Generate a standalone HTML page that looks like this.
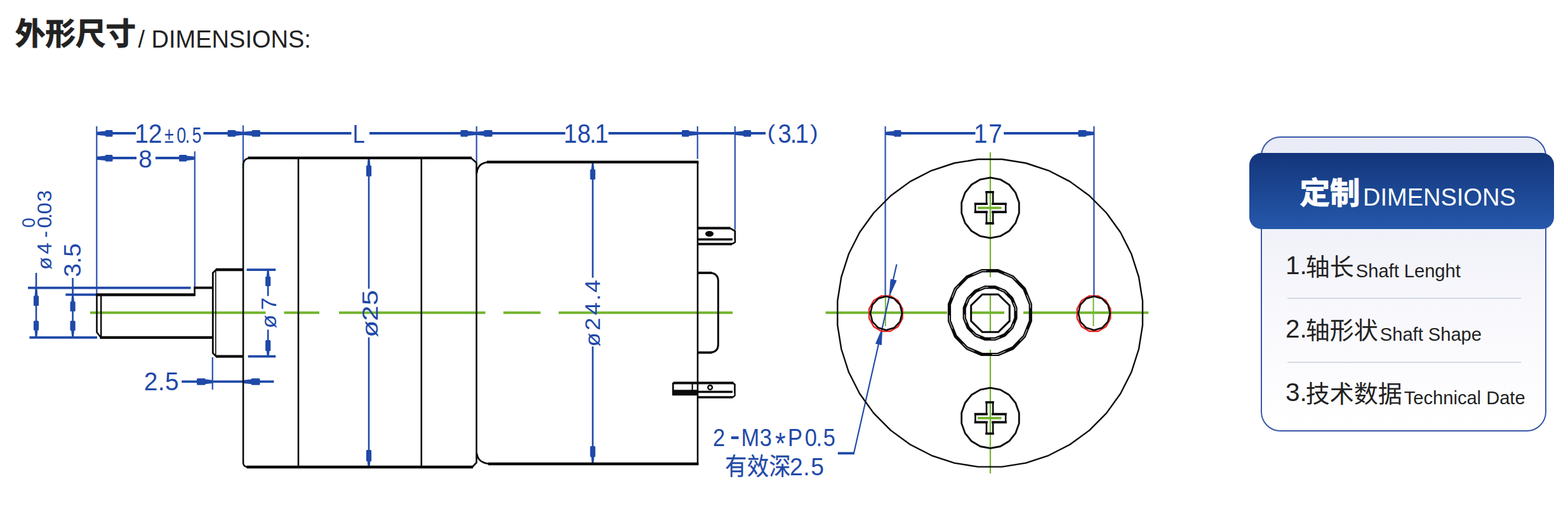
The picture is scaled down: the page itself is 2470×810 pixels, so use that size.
<!DOCTYPE html>
<html lang="zh-CN">
<head>
<meta charset="utf-8">
<title>外形尺寸 / DIMENSIONS</title>
<style>
html,body{margin:0;padding:0;background:#fff;}
body{width:2470px;height:810px;position:relative;overflow:hidden;font-family:"Liberation Sans","Noto Sans CJK SC",sans-serif;color:#222;}
#drawing{position:absolute;left:0;top:0;}
.title{position:absolute;left:24px;top:0;height:100px;white-space:nowrap;}
.title .cn{position:absolute;left:0;top:19px;font-size:47.5px;line-height:70px;font-weight:bold;font-family:"Liberation Sans","Noto Sans CJK SC",sans-serif;color:#222;letter-spacing:0;-webkit-text-stroke:1px #222;}
.title .en{position:absolute;left:193.5px;top:40px;font-size:38px;line-height:44px;color:#222;}
.card{position:absolute;left:1986.4px;top:214.9px;width:445.6px;height:460.8px;border:2px solid #3a58a8;border-radius:31px;background:linear-gradient(#e9ebf6 0%,#f1f2f9 32%,#f9f9fd 62%,#ffffff 100%);}
.head{position:absolute;left:1968px;top:241px;width:480px;height:120px;border-radius:19px;background:linear-gradient(#14357a 0%,#1b4590 45%,#2558ab 100%);}
.head .cn{position:absolute;left:79.5px;top:29px;font-size:47.5px;line-height:70px;font-weight:bold;color:#fff;-webkit-text-stroke:1px #fff;}
.head .en{position:absolute;left:179px;top:48px;font-size:38px;line-height:44px;color:#fff;}
.item{position:absolute;left:2025px;white-space:nowrap;color:#222;height:60px;}
.item .num{font-size:40.5px;line-height:60px;display:inline-block;position:relative;top:-2.5px;margin-right:-2px;}
.item .cn{font-size:38px;line-height:60px;display:inline-block;position:relative;top:0px;}
.item .en{font-size:29.1px;line-height:60px;margin-left:3px;display:inline-block;position:relative;top:2.5px;}
.sep{position:absolute;left:2028px;width:368px;height:2px;background:#d5d9e4;}
</style>
</head>
<body>
<svg id="drawing" width="2470" height="810" viewBox="0 0 2470 810">
<line x1="142" y1="492.8" x2="418.5" y2="492.8" stroke="#74b430" stroke-width="4"/>
<line x1="447.5" y1="492.8" x2="503" y2="492.8" stroke="#74b430" stroke-width="4"/>
<line x1="534" y1="492.8" x2="764.5" y2="492.8" stroke="#74b430" stroke-width="4"/>
<line x1="793" y1="492.8" x2="851.5" y2="492.8" stroke="#74b430" stroke-width="4"/>
<line x1="880" y1="492.8" x2="1154" y2="492.8" stroke="#74b430" stroke-width="4"/>
<line x1="1300.5" y1="492.8" x2="1492" y2="492.8" stroke="#74b430" stroke-width="4"/>
<line x1="1528" y1="492.8" x2="1582" y2="492.8" stroke="#74b430" stroke-width="4"/>
<line x1="1612" y1="492.8" x2="1809" y2="492.8" stroke="#74b430" stroke-width="4"/>
<line x1="1560" y1="240" x2="1560" y2="437" stroke="#74b430" stroke-width="2.2"/>
<line x1="1560" y1="464" x2="1560" y2="522" stroke="#74b430" stroke-width="2.2"/>
<line x1="1560" y1="551" x2="1560" y2="746" stroke="#74b430" stroke-width="2.2"/>
<line x1="1540" y1="327.6" x2="1577.5" y2="327.6" stroke="#74b430" stroke-width="3.6"/>
<line x1="1560" y1="305.5" x2="1560" y2="349.5" stroke="#74b430" stroke-width="2.2"/>
<line x1="1540" y1="658.9" x2="1577.5" y2="658.9" stroke="#74b430" stroke-width="3.6"/>
<line x1="1560" y1="636.8" x2="1560" y2="680.8" stroke="#74b430" stroke-width="2.2"/>
<line x1="1394.8" y1="468" x2="1394.8" y2="514" stroke="#74b430" stroke-width="2.0"/>
<line x1="1722.4" y1="468" x2="1722.4" y2="514" stroke="#74b430" stroke-width="2.0"/>
<line x1="152" y1="210.0" x2="214" y2="210.0" stroke="#1f49a8" stroke-width="3.8"/>
<line x1="320.5" y1="210.0" x2="553.5" y2="210.0" stroke="#1f49a8" stroke-width="3.8"/>
<line x1="582" y1="210.0" x2="890.5" y2="210.0" stroke="#1f49a8" stroke-width="3.8"/>
<line x1="958.5" y1="210.0" x2="1206" y2="210.0" stroke="#1f49a8" stroke-width="3.8"/>
<line x1="152.3" y1="199" x2="152.3" y2="464" stroke="#3356b0" stroke-width="2.3"/>
<line x1="383" y1="197.5" x2="383" y2="266" stroke="#3356b0" stroke-width="2.3"/>
<line x1="750.7" y1="199" x2="750.7" y2="276" stroke="#3356b0" stroke-width="2.3"/>
<line x1="1098.8" y1="199" x2="1098.8" y2="250.5" stroke="#3356b0" stroke-width="2.3"/>
<line x1="1157.8" y1="199" x2="1157.8" y2="362" stroke="#3356b0" stroke-width="2.3"/>
<path d="M152.3 207.8 L166.2 206.5 V206.05 Q166.2 205.05 167.2 205.05 H176.0 Q177.5 205.05 177.5 206.55 V214.05 Q177.5 215.55 176.0 215.55 H167.2 Q166.2 215.55 166.2 214.55 V214.1 L152.3 212.8 Z" fill="#1f49a8"/>
<path d="M383 207.8 L371 206.5 V206.05 Q371 205.05 370 205.05 H360.0 Q358.5 205.05 358.5 206.55 V214.05 Q358.5 215.55 360.0 215.55 H370 Q371 215.55 371 214.55 V214.1 L383 212.8 Z" fill="#1f49a8"/>
<path d="M383 207.8 L397 206.5 V206.05 Q397 205.05 398 205.05 H408.5 Q410 205.05 410 206.55 V214.05 Q410 215.55 408.5 215.55 H398 Q397 215.55 397 214.55 V214.1 L383 212.8 Z" fill="#1f49a8"/>
<path d="M750.7 207.8 L736.8 206.5 V206.05 Q736.8 205.05 735.8 205.05 H726.9 Q725.4 205.05 725.4 206.55 V214.05 Q725.4 215.55 726.9 215.55 H735.8 Q736.8 215.55 736.8 214.55 V214.1 L750.7 212.8 Z" fill="#1f49a8"/>
<path d="M750.7 207.8 L762.6 206.5 V206.05 Q762.6 205.05 763.6 205.05 H774.1 Q775.6 205.05 775.6 206.55 V214.05 Q775.6 215.55 774.1 215.55 H763.6 Q762.6 215.55 762.6 214.55 V214.1 L750.7 212.8 Z" fill="#1f49a8"/>
<path d="M1098.8 207.8 L1085.4 206.5 V206.05 Q1085.4 205.05 1084.4 205.05 H1075.5 Q1074 205.05 1074 206.55 V214.05 Q1074 215.55 1075.5 215.55 H1084.4 Q1085.4 215.55 1085.4 214.55 V214.1 L1098.8 212.8 Z" fill="#1f49a8"/>
<path d="M1157.8 207.8 L1171.2 206.5 V206.05 Q1171.2 205.05 1172.2 205.05 H1181.7 Q1183.2 205.05 1183.2 206.55 V214.05 Q1183.2 215.55 1181.7 215.55 H1172.2 Q1171.2 215.55 1171.2 214.55 V214.1 L1157.8 212.8 Z" fill="#1f49a8"/>
<line x1="152" y1="249" x2="215" y2="249" stroke="#1f49a8" stroke-width="3.8"/>
<line x1="245" y1="249" x2="307" y2="249" stroke="#1f49a8" stroke-width="3.8"/>
<path d="M152.3 246.8 L166 245.5 V245.05 Q166 244.05 167 244.05 H176.0 Q177.5 244.05 177.5 245.55 V253.05 Q177.5 254.55 176.0 254.55 H167 Q166 254.55 166 253.55 V253.1 L152.3 251.8 Z" fill="#1f49a8"/>
<path d="M306.8 246.8 L294 245.5 V245.05 Q294 244.05 293 244.05 H283.5 Q282 244.05 282 245.55 V253.05 Q282 254.55 283.5 254.55 H293 Q294 254.55 294 253.55 V253.1 L306.8 251.8 Z" fill="#1f49a8"/>
<line x1="306.8" y1="238.5" x2="306.8" y2="452" stroke="#3356b0" stroke-width="2.3"/>
<line x1="44" y1="453.6" x2="300.5" y2="453.6" stroke="#1f49a8" stroke-width="3.8"/>
<line x1="46.5" y1="531.8" x2="153" y2="531.8" stroke="#1f49a8" stroke-width="3.8"/>
<line x1="103.3" y1="464.4" x2="152" y2="464.4" stroke="#1f49a8" stroke-width="3.8"/>
<line x1="57" y1="430" x2="57" y2="532" stroke="#1f49a8" stroke-width="2.6"/>
<line x1="114.6" y1="438" x2="114.6" y2="532" stroke="#1f49a8" stroke-width="2.6"/>
<path d="M55.7 453.6 L54.6 466.3 H53.9 Q52.9 466.3 52.9 467.3 V480.4 Q52.9 481.9 54.4 481.9 H59.6 Q61.1 481.9 61.1 480.4 V467.3 Q61.1 466.3 60.1 466.3 H59.4 L58.3 453.6 Z" fill="#1f49a8"/>
<path d="M55.7 531.8 L54.6 520.4 H53.9 Q52.9 520.4 52.9 519.4 V507.1 Q52.9 505.6 54.4 505.6 H59.6 Q61.1 505.6 61.1 507.1 V519.4 Q61.1 520.4 60.1 520.4 H59.4 L58.3 531.8 Z" fill="#1f49a8"/>
<path d="M113.3 464.4 L112.2 475.2 H111.5 Q110.5 475.2 110.5 476.2 V489.2 Q110.5 490.7 112.0 490.7 H117.2 Q118.7 490.7 118.7 489.2 V476.2 Q118.7 475.2 117.7 475.2 H117.0 L115.9 464.4 Z" fill="#1f49a8"/>
<path d="M113.3 531.8 L112.2 521 H111.5 Q110.5 521 110.5 520 V507.1 Q110.5 505.6 112.0 505.6 H117.2 Q118.7 505.6 118.7 507.1 V520 Q118.7 521 117.7 521 H117.0 L115.9 531.8 Z" fill="#1f49a8"/>
<line x1="388.6" y1="425.1" x2="434.3" y2="425.1" stroke="#1f49a8" stroke-width="3.8"/>
<line x1="390.7" y1="561.7" x2="434.3" y2="561.7" stroke="#1f49a8" stroke-width="3.8"/>
<line x1="422.2" y1="425" x2="422.2" y2="466.5" stroke="#1f49a8" stroke-width="2.6"/>
<line x1="422.2" y1="519.5" x2="422.2" y2="562" stroke="#1f49a8" stroke-width="2.6"/>
<path d="M420.9 425.1 L419.8 436 H419.1 Q418.1 436 418.1 437 V449.5 Q418.1 451 419.6 451 H424.8 Q426.3 451 426.3 449.5 V437 Q426.3 436 425.3 436 H424.6 L423.5 425.1 Z" fill="#1f49a8"/>
<path d="M420.9 561.7 L419.8 553 H419.1 Q418.1 553 418.1 552 V537.5 Q418.1 536 419.6 536 H424.8 Q426.3 536 426.3 537.5 V552 Q426.3 553 425.3 553 H424.6 L423.5 561.7 Z" fill="#1f49a8"/>
<line x1="286.2" y1="601.3" x2="431.4" y2="601.3" stroke="#1f49a8" stroke-width="3.8"/>
<line x1="334.8" y1="563" x2="334.8" y2="614" stroke="#3356b0" stroke-width="2.3"/>
<path d="M334.8 599.0 L323.5 597.7 V597.25 Q323.5 596.25 322.5 596.25 H311.5 Q310 596.25 310 597.75 V605.25 Q310 606.75 311.5 606.75 H322.5 Q323.5 606.75 323.5 605.75 V605.3 L334.8 604.0 Z" fill="#1f49a8"/>
<path d="M383.4 599.0 L396 597.7 V597.25 Q396 596.25 397 596.25 H408.0 Q409.5 596.25 409.5 597.75 V605.25 Q409.5 606.75 408.0 606.75 H397 Q396 606.75 396 605.75 V605.3 L383.4 604.0 Z" fill="#1f49a8"/>
<line x1="581" y1="250" x2="581" y2="455" stroke="#1f49a8" stroke-width="2.6"/>
<line x1="581" y1="531.7" x2="581" y2="734" stroke="#1f49a8" stroke-width="2.6"/>
<path d="M579.7 249 L578.6 261 H577.9 Q576.9 261 576.9 262 V276.5 Q576.9 278 578.4 278 H583.6 Q585.1 278 585.1 276.5 V262 Q585.1 261 584.1 261 H583.4 L582.3 249 Z" fill="#1f49a8"/>
<path d="M579.7 736 L578.6 727 H577.9 Q576.9 727 576.9 726 V710.5 Q576.9 709 578.4 709 H583.6 Q585.1 709 585.1 710.5 V726 Q585.1 727 584.1 727 H583.4 L582.3 736 Z" fill="#1f49a8"/>
<line x1="933.7" y1="257" x2="933.7" y2="437.6" stroke="#1f49a8" stroke-width="2.6"/>
<line x1="933.7" y1="546" x2="933.7" y2="729" stroke="#1f49a8" stroke-width="2.6"/>
<path d="M932.4 256 L931.3 267 H930.6 Q929.6 267 929.6 268 V281.5 Q929.6 283 931.1 283 H936.3 Q937.8 283 937.8 281.5 V268 Q937.8 267 936.8 267 H936.1 L935.0 256 Z" fill="#1f49a8"/>
<path d="M932.4 731 L931.3 720 H930.6 Q929.6 720 929.6 719 V704.5 Q929.6 703 931.1 703 H936.3 Q937.8 703 937.8 704.5 V719 Q937.8 720 936.8 720 H936.1 L935.0 731 Z" fill="#1f49a8"/>
<line x1="1394.5" y1="210.0" x2="1536.5" y2="210.0" stroke="#1f49a8" stroke-width="3.8"/>
<line x1="1581.2" y1="210.0" x2="1723.4" y2="210.0" stroke="#1f49a8" stroke-width="3.8"/>
<line x1="1394.6" y1="199" x2="1394.6" y2="467" stroke="#3356b0" stroke-width="2.3"/>
<line x1="1723.3" y1="199" x2="1723.3" y2="467" stroke="#3356b0" stroke-width="2.3"/>
<path d="M1394.6 207.8 L1408.4 206.5 V206.05 Q1408.4 205.05 1409.4 205.05 H1418.1 Q1419.6 205.05 1419.6 206.55 V214.05 Q1419.6 215.55 1418.1 215.55 H1409.4 Q1408.4 215.55 1408.4 214.55 V214.1 L1394.6 212.8 Z" fill="#1f49a8"/>
<path d="M1723.3 207.8 L1711 206.5 V206.05 Q1711 205.05 1710 205.05 H1700.0 Q1698.5 205.05 1698.5 206.55 V214.05 Q1698.5 215.55 1700.0 215.55 H1710 Q1711 215.55 1711 214.55 V214.1 L1723.3 212.8 Z" fill="#1f49a8"/>
<path d="M1412.5 416.5 L1345 714.3" fill="none" stroke="#1f49a8" stroke-width="2.1"/>
<line x1="1319.8" y1="714.3" x2="1346" y2="714.3" stroke="#1f49a8" stroke-width="3.8"/>
<path d="M1401.2 466 L1403.2 440.2 L1412.0 442.2 Z" fill="#1f49a8" stroke="#1f49a8" stroke-width="1" stroke-linejoin="round"/>
<path d="M1389.6 518 L1388.4 543.4 L1379.6 541.4 Z" fill="#1f49a8" stroke="#1f49a8" stroke-width="1" stroke-linejoin="round"/>
<text transform="scale(0.926,1)" x="229.33 252.45" y="225.20" font-size="42.10" font-family="'Liberation Sans',sans-serif" fill="#1f49a8">12</text>
<text transform="scale(0.763,1)" x="339.36 364.80 382.48 396.56" y="225.20" font-size="35.20" font-family="'Liberation Sans',sans-serif" fill="#1f49a8">±0.5</text>
<text transform="scale(0.970,1)" x="224.88" y="264.10" font-size="39.70" font-family="'Liberation Sans',sans-serif" fill="#1f49a8">8</text>
<text transform="scale(0.856,1)" x="648.86" y="224.80" font-size="40.30" font-family="'Liberation Sans',sans-serif" fill="#1f49a8">L</text>
<text transform="scale(0.900,1)" x="986.72 1010.67 1032.00 1041.28" y="225.20" font-size="42.10" font-family="'Liberation Sans',sans-serif" fill="#1f49a8">18.1</text>
<text transform="scale(1.100,1)" x="1098.95" y="220.50" font-size="33.70" font-family="'Liberation Sans',sans-serif" fill="#1f49a8">(</text>
<text transform="scale(0.900,1)" x="1361.78 1383.06 1391.83" y="225.20" font-size="42.10" font-family="'Liberation Sans',sans-serif" fill="#1f49a8">3.1</text>
<text transform="scale(1.100,1)" x="1160.14" y="220.50" font-size="33.70" font-family="'Liberation Sans',sans-serif" fill="#1f49a8">)</text>
<text transform="scale(0.921,1)" x="1665.48 1690.95" y="225.00" font-size="41.80" font-family="'Liberation Sans',sans-serif" fill="#1f49a8">17</text>
<text transform="scale(0.945,1)" x="240.05 263.23 275.14" y="614.70" font-size="41.20" font-family="'Liberation Sans',sans-serif" fill="#1f49a8">2.5</text>
<text transform="scale(0.867,1)" x="1295.25 1326.24 1346.52 1380.21 1408.34 1431.32 1462.26 1482.72 1495.67" y="703.50" font-size="39.70" font-family="'Liberation Sans',sans-serif" fill="#1f49a8">2<tspan font-size="55.0" dy="1.10">-</tspan><tspan dy="-1.10">M</tspan>3<tspan font-size="49.0" dy="11.90">*</tspan><tspan dy="-11.90">P</tspan>0.5</text>
<text transform="scale(0.896,1)" x="1274.75 1313.65 1352.05" y="747.70" font-size="38.00" font-family="'Liberation Sans','Noto Sans CJK SC',sans-serif" fill="#1f49a8" stroke="#1f49a8" stroke-width="0.3" stroke-linejoin="round">有效深</text>
<text transform="scale(0.942,1)" x="1320.63 1343.07 1355.94" y="749.00" font-size="39.50" font-family="'Liberation Sans',sans-serif" fill="#1f49a8">2.5</text>
<text transform="rotate(-90) scale(1.047,1)" x="-416.88 -396.81 -386.51" y="127.40" font-size="36.80" font-family="'Liberation Sans',sans-serif" fill="#1f49a8">3.5</text>
<text transform="rotate(-90) scale(1.044,1)" x="-407.17 -383.56" y="81.50" font-size="31.40" font-family="'Liberation Sans',sans-serif" fill="#1f49a8">ø4</text>
<text transform="rotate(-90) scale(1.049,1)" x="-357.28 -342.81 -328.89 -321.64 -303.10" y="81.50" font-size="31.40" font-family="'Liberation Sans',sans-serif" fill="#1f49a8">-0.03</text>
<text transform="rotate(-90) scale(0.927,1)" x="-386.90" y="55.20" font-size="30.00" font-family="'Liberation Sans',sans-serif" fill="#1f49a8">0</text>
<text transform="rotate(-90) scale(1.053,1)" x="-491.35 -463.96" y="435.00" font-size="33.60" font-family="'Liberation Sans',sans-serif" fill="#1f49a8">ø7</text>
<text transform="rotate(-90) scale(1.250,1)" x="-425.44 -404.72 -384.96" y="595.00" font-size="35.20" font-family="'Liberation Sans',sans-serif" fill="#1f49a8">ø25</text>
<text transform="rotate(-90) scale(1.076,1)" x="-507.73 -483.95 -461.50 -440.23 -428.40" y="945.50" font-size="33.60" font-family="'Liberation Sans',sans-serif" fill="#1f49a8">ø24.4</text>
<polygon points="1421.7,501.7 1414.6,514.6 1402.4,522.0 1388.4,522.0 1376.2,514.6 1369.1,501.7 1369.1,486.7 1376.2,473.8 1388.4,466.4 1402.4,466.4 1414.6,473.8 1421.7,486.7" fill="none" stroke="#e8231e" stroke-width="2.4" stroke-linejoin="round"/>
<polygon points="1749.3,501.7 1742.2,514.6 1730.0,522.0 1716.0,522.0 1703.8,514.6 1696.7,501.7 1696.7,486.7 1703.8,473.8 1716.0,466.4 1730.0,466.4 1742.2,473.8 1749.3,486.7" fill="none" stroke="#e8231e" stroke-width="2.4" stroke-linejoin="round"/>
<path d="M151.5 464.5 H307.5" fill="none" stroke="#0a0a0a" stroke-width="4.3"/>
<path d="M305.5 453.5 H335" fill="none" stroke="#0a0a0a" stroke-width="3.8"/>
<path d="M157.5 531.8 H335" fill="none" stroke="#0a0a0a" stroke-width="4.3"/>
<path d="M152.5 463 V523.5 L159 532" fill="none" stroke="#0a0a0a" stroke-width="2.6"/>
<path d="M159.2 464 V531" fill="none" stroke="#0a0a0a" stroke-width="2.4"/>
<path d="M306.6 452 V466" fill="none" stroke="#0a0a0a" stroke-width="2.6"/>
<path d="M384 425 H340 M384 561.6 H340" fill="none" stroke="#0a0a0a" stroke-width="4.3"/>
<path d="M341 424.5 L335.3 430 V556.5 L341 562" fill="none" stroke="#0a0a0a" stroke-width="2.8"/>
<path d="M339.8 427 V559" fill="none" stroke="#0a0a0a" stroke-width="1.6"/>
<path d="M390.5 248.9 H743 M388.5 736 H745" fill="none" stroke="#0a0a0a" stroke-width="4.3"/>
<path d="M383.1 260 Q383.4 250.5 392 249.2 M383.1 259 V729.5 Q383.4 735 389.5 736" fill="none" stroke="#0a0a0a" stroke-width="2.6"/>
<path d="M742 249 L750.6 256.5 V729 L744 736" fill="none" stroke="#0a0a0a" stroke-width="2.6"/>
<line x1="470" y1="249" x2="470" y2="736" stroke="#0a0a0a" stroke-width="2.6"/>
<line x1="663.8" y1="249" x2="663.8" y2="736" stroke="#0a0a0a" stroke-width="2.6"/>
<path d="M767 255.4 H1100.4 M769 731 H1100.4" fill="none" stroke="#0a0a0a" stroke-width="4.3"/>
<path d="M751.2 273 Q752 257.5 768 255.6 M751.2 714.5 Q752.5 729 770 730.8" fill="none" stroke="#0a0a0a" stroke-width="2.6"/>
<line x1="1099" y1="255" x2="1099" y2="732" stroke="#0a0a0a" stroke-width="2.6"/>
<path d="M1099 430 H1121" fill="none" stroke="#0a0a0a" stroke-width="3.8"/>
<path d="M1099 555.6 H1121" fill="none" stroke="#0a0a0a" stroke-width="3.8"/>
<path d="M1119 430 Q1131.3 431 1131.3 443 V543 Q1131.3 554.6 1119 555.6" fill="none" stroke="#0a0a0a" stroke-width="3"/>
<path d="M1099 359.6 H1150.5" fill="none" stroke="#0a0a0a" stroke-width="4"/>
<path d="M1099 377.3 H1154 M1099 384.6 H1153" fill="none" stroke="#0a0a0a" stroke-width="3.6"/>
<path d="M1150 359.6 L1157.8 364 V381.5 L1153 384.6" fill="none" stroke="#0a0a0a" stroke-width="2.8"/>
<ellipse cx="1117.5" cy="368.5" rx="6.6" ry="4.6" fill="#0a0a0a"/>
<ellipse cx="1155" cy="379.5" rx="1.6" ry="2.4" fill="#fff"/>
<path d="M1060.5 603.5 H1155.5" fill="none" stroke="#0a0a0a" stroke-width="4.2"/>
<rect x="1059" y="614.3" width="40.5" height="9" fill="#0a0a0a"/>
<path d="M1060.2 603 V622 M1157.4 605 V623.5" fill="none" stroke="#0a0a0a" stroke-width="2.8"/>
<path d="M1099 617.5 H1154 M1099 626 H1154.5" fill="none" stroke="#0a0a0a" stroke-width="3.6"/>
<path d="M1090.6 605 V615" fill="none" stroke="#0a0a0a" stroke-width="2.2"/>
<path d="M1155 603.8 L1157.8 606.5 M1154.5 626 L1157.8 622.8" fill="none" stroke="#0a0a0a" stroke-width="2.6"/>
<circle cx="1118.6" cy="610.6" r="3.4" fill="none" stroke="#0a0a0a" stroke-width="2.4"/>
<ellipse cx="1155" cy="621.2" rx="1.6" ry="2.6" fill="#fff"/>
<polygon points="1799.9,512.4 1793.9,550.0 1782.3,586.3 1765.1,620.3 1742.9,651.1 1716.1,678.1 1685.5,700.5 1651.8,717.8 1615.9,729.6 1578.5,735.6 1540.7,735.6 1503.3,729.6 1467.4,717.8 1433.7,700.5 1403.1,678.1 1376.3,651.1 1354.1,620.3 1336.9,586.3 1325.3,550.0 1319.3,512.4 1319.3,474.2 1325.3,436.6 1336.9,400.3 1354.1,366.3 1376.3,335.5 1403.1,308.5 1433.7,286.1 1467.4,268.8 1503.3,257.0 1540.7,251.0 1578.5,251.0 1615.9,257.0 1651.8,268.8 1685.5,286.1 1716.1,308.5 1742.9,335.5 1765.1,366.3 1782.3,400.3 1793.9,436.6 1799.9,474.2" fill="none" stroke="#0a0a0a" stroke-width="2.4" stroke-linejoin="round"/>
<polygon points="1605.3,335.8 1599.8,351.3 1589.6,364.0 1575.7,372.2 1560.0,375.1 1544.3,372.2 1530.4,364.0 1520.2,351.3 1514.7,335.8 1514.7,319.2 1520.2,303.7 1530.4,291.0 1544.3,282.8 1560.0,279.9 1575.7,282.8 1589.6,291.0 1599.8,303.7 1605.3,319.2" fill="none" stroke="#0a0a0a" stroke-width="2.8" stroke-linejoin="round"/>
<path d="M1554 302.7 H1564 M1554 351.9 H1564 M1536.5 321.3 H1554 M1564 321.3 H1584 M1536.5 334.1 H1554 M1564 334.1 H1584" fill="none" stroke="#0a0a0a" stroke-width="3.6" stroke-linecap="square"/>
<path d="M1554 302.5 V321.3 M1564.2 302.5 V321.3 M1554 334.1 V352.1 M1564.2 334.1 V352.1 M1536.4 321.3 V334.1 M1584.2 321.3 V334.1" fill="none" stroke="#0a0a0a" stroke-width="2.6" stroke-linecap="square"/>
<polygon points="1605.3,667.1 1599.8,682.6 1589.6,695.3 1575.7,703.5 1560.0,706.4 1544.3,703.5 1530.4,695.3 1520.2,682.6 1514.7,667.1 1514.7,650.5 1520.2,635.0 1530.4,622.3 1544.3,614.1 1560.0,611.2 1575.7,614.1 1589.6,622.3 1599.8,635.0 1605.3,650.5" fill="none" stroke="#0a0a0a" stroke-width="2.8" stroke-linejoin="round"/>
<path d="M1554 634.0 H1564 M1554 683.2 H1564 M1536.5 652.6 H1554 M1564 652.6 H1584 M1536.5 665.4 H1554 M1564 665.4 H1584" fill="none" stroke="#0a0a0a" stroke-width="3.6" stroke-linecap="square"/>
<path d="M1554 633.8 V652.6 M1564.2 633.8 V652.6 M1554 665.4 V683.4 M1564.2 665.4 V683.4 M1536.4 652.6 V665.4 M1584.2 652.6 V665.4" fill="none" stroke="#0a0a0a" stroke-width="2.6" stroke-linecap="square"/>
<polygon points="1623.3,505.7 1613.6,529.9 1595.6,548.5 1572.1,558.5 1546.7,558.5 1523.2,548.5 1505.2,529.9 1495.5,505.7 1495.5,479.5 1505.2,455.3 1523.2,436.7 1546.7,426.7 1572.1,426.7 1595.6,436.7 1613.6,455.3 1623.3,479.5" fill="none" stroke="#0a0a0a" stroke-width="5.2" stroke-linejoin="round"/>
<polygon points="1623.3,505.7 1613.6,529.9 1595.6,548.5 1572.1,558.5 1546.7,558.5 1523.2,548.5 1505.2,529.9 1495.5,505.7 1495.5,479.5 1505.2,455.3 1523.2,436.7 1546.7,426.7 1572.1,426.7 1595.6,436.7 1613.6,455.3 1623.3,479.5" fill="none" stroke="#fff" stroke-width="0.9" stroke-dasharray="22 29" stroke-dashoffset="-14"/>
<polygon points="1600.0,501.5 1593.9,516.5 1582.5,528.0 1567.6,534.2 1551.6,534.2 1536.7,528.0 1525.3,516.5 1519.2,501.5 1519.2,485.3 1525.3,470.3 1536.7,458.8 1551.6,452.6 1567.6,452.6 1582.5,458.8 1593.9,470.3 1600.0,485.3" fill="none" stroke="#0a0a0a" stroke-width="5.2" stroke-linejoin="round"/>
<polygon points="1600.0,501.5 1593.9,516.5 1582.5,528.0 1567.6,534.2 1551.6,534.2 1536.7,528.0 1525.3,516.5 1519.2,501.5 1519.2,485.3 1525.3,470.3 1536.7,458.8 1551.6,452.6 1567.6,452.6 1582.5,458.8 1593.9,470.3 1600.0,485.3" fill="none" stroke="#fff" stroke-width="0.9" stroke-dasharray="14 18" stroke-dashoffset="-9"/>
<polygon points="1590.3,505.9 1572.6,523.3 1547.4,523.3 1529.7,505.9 1529.7,481.3 1547.4,463.9 1572.6,463.9 1590.3,481.3" fill="none" stroke="#0a0a0a" stroke-width="3"/>
<polygon points="1421.0,493.6 1417.7,506.9 1408.5,516.6 1396.0,520.2 1383.5,516.6 1374.3,506.9 1371.0,493.6 1374.3,480.3 1383.5,470.6 1396.0,467.0 1408.5,470.6 1417.7,480.3" fill="none" stroke="#0a0a0a" stroke-width="2.6" stroke-linejoin="round"/>
<polygon points="1748.6,493.6 1745.3,506.9 1736.1,516.6 1723.6,520.2 1711.1,516.6 1701.9,506.9 1698.6,493.6 1701.9,480.3 1711.1,470.6 1723.6,467.0 1736.1,470.6 1745.3,480.3" fill="none" stroke="#0a0a0a" stroke-width="2.6" stroke-linejoin="round"/>
</svg>
<div class="title"><span class="cn">外形尺寸</span><span class="en">/ DIMENSIONS:</span></div>
<div class="card"></div>
<div class="head"><span class="cn">定制</span><span class="en">DIMENSIONS</span></div>
<div class="item" style="top:390px"><span class="num">1.</span><span class="cn">轴长</span><span class="en">Shaft Lenght</span></div>
<div class="sep" style="top:469.4px"></div>
<div class="item" style="top:490px"><span class="num">2.</span><span class="cn">轴形状</span><span class="en">Shaft Shape</span></div>
<div class="sep" style="top:569.5px"></div>
<div class="item" style="top:590px"><span class="num">3.</span><span class="cn">技术数据</span><span class="en">Technical Date</span></div>
</body>
</html>
